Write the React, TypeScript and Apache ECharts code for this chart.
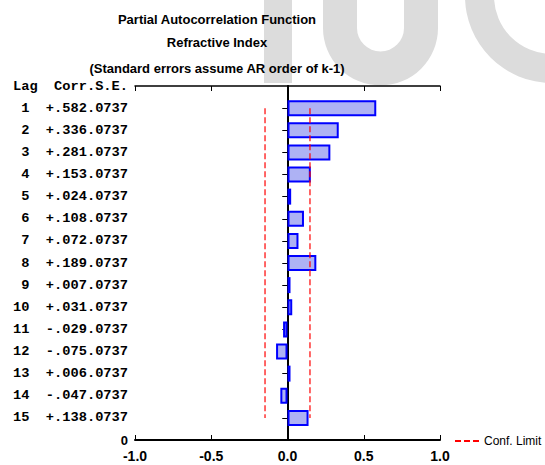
import React, { useEffect, useRef } from "react";
import * as echarts from "echarts";

// Partial autocorrelations by lag, with their standard errors
const lags = [1, 2, 3, 4, 5, 6, 7, 8, 9, 10, 11, 12, 13, 14, 15];
const corr = [0.582, 0.336, 0.281, 0.153, 0.024, 0.108, 0.072, 0.189, 0.007, 0.031, -0.029, -0.075, 0.006, -0.047, 0.138];
const stdErr = [0.0737, 0.0737, 0.0737, 0.0737, 0.0737, 0.0737, 0.0737, 0.0737, 0.0737, 0.0737, 0.0737, 0.0737, 0.0737, 0.0737, 0.0737];
const xTickValues = [-1.0, -0.5, 0.0, 0.5, 1.0];
const headerLabel = "Lag\u00a0\u00a0Corr.S.E.";
const titleLines = [
  "Partial Autocorrelation Function",
  "Refractive Index",
  "(Standard errors assume AR order of k-1)",
];
const limitName = "Conf. Limit";

const NB = "\u00a0";
const fmtSigned = (v: number, digits: number) => {
  const s = Math.abs(v).toFixed(digits).replace(/^0/, "");
  return (v < 0 ? "-" : "+") + s;
};
const fmtSE = (v: number) => v.toFixed(4).replace(/^0/, "");

// Category axis runs bottom-up: "0", lag 15 ... lag 1, header row
const nCat = lags.length + 2;
const yCategories: string[] = [];
yCategories.push("0");
for (let i = lags.length - 1; i >= 0; i--) {
  const lagStr = String(lags[i]).padStart(2, NB);
  yCategories.push(lagStr + NB + NB + fmtSigned(corr[i], 3) + fmtSE(stdErr[i]));
}
yCategories.push(headerLabel);

const barValues: (number | null)[] = [null];
for (let i = lags.length - 1; i >= 0; i--) barValues.push(corr[i]);
barValues.push(null);

const lagIndex = (lag: number) => nCat - 1 - lag;
const firstLag = lags[0];
const lastLag = lags[lags.length - 1];
const limit = 2 * stdErr[0];

const isLagTick = (i: number) => i >= 1 && i <= nCat - 2;

export default function App() {
  const ref = useRef<HTMLDivElement>(null);

  useEffect(() => {
    if (!ref.current) return;
    const chart = echarts.init(ref.current, null, { renderer: "svg" });
    const sans = "'Liberation Sans', Arial, sans-serif";
    const mono = "'Liberation Mono', 'Courier New', monospace";
    const grey = "#dcdcdc";

    const limitLine = (x: number) => ({
      name: limitName,
      type: "line",
      xAxisIndex: 0,
      yAxisIndex: 0,
      symbol: "none",
      data: [
        [x, lagIndex(firstLag)],
        [x, lagIndex(lastLag)],
      ],
      lineStyle: { color: "#ff0000", width: 1.2, type: [6, 3] },
      itemStyle: { color: "#ff0000" },
      z: 5,
      silent: true,
    });

    chart.setOption({
      animation: false,
      backgroundColor: "#ffffff",
      graphic: [
        {
          type: "group",
          z: -10,
          silent: true,
          children: [
            { type: "rect", shape: { x: 264, y: 0, width: 28, height: 83 }, style: { fill: grey } },
            { type: "rect", shape: { x: 323, y: 0, width: 34, height: 28 }, style: { fill: grey } },
            { type: "rect", shape: { x: 404, y: 0, width: 34, height: 28 }, style: { fill: grey } },
            {
              type: "sector",
              shape: { cx: 380.5, cy: 28, r: 57.5, r0: 23.5, startAngle: 0, endAngle: Math.PI, clockwise: true },
              style: { fill: grey },
            },
            {
              type: "sector",
              shape: { cx: 552, cy: -4, r: 87, r0: 58, startAngle: Math.PI / 2, endAngle: Math.PI, clockwise: true },
              style: { fill: grey },
            },
          ],
        },
      ],
      title: titleLines.map((t, i) => ({
        text: t,
        left: 217,
        top: [13, 36, 62][i],
        textAlign: "center",
        padding: 0,
        textStyle: { fontFamily: sans, fontWeight: "bold", fontSize: 13, color: "#000" },
      })),
      legend: {
        data: [limitName],
        left: 454,
        top: 435,
        itemWidth: 24,
        itemHeight: 10,
        itemGap: 4,
        padding: 0,
        itemStyle: { opacity: 0 },
        textStyle: { fontFamily: sans, fontSize: 12, color: "#000", padding: [0, 0, 0, 0] },
      },
      grid: { left: 135, top: 86, width: 305, height: 354 },
      xAxis: [
        {
          type: "value",
          position: "bottom",
          min: xTickValues[0],
          max: xTickValues[xTickValues.length - 1],
          interval: 0.5,
          axisLine: { show: true, lineStyle: { color: "#000", width: 2 } },
          axisTick: { show: true, inside: true, length: 5, lineStyle: { color: "#000", width: 1 } },
          splitLine: { show: false },
          axisLabel: {
            margin: 9,
            fontFamily: sans,
            fontWeight: "bold",
            fontSize: 14,
            color: "#000",
            formatter: (v: number) => v.toFixed(1),
          },
        },
        {
          type: "value",
          position: "top",
          min: xTickValues[0],
          max: xTickValues[xTickValues.length - 1],
          interval: 0.5,
          axisLine: { show: true, lineStyle: { color: "#000", width: 1.5 } },
          axisTick: { show: true, inside: true, length: 5, lineStyle: { color: "#000", width: 1 } },
          splitLine: { show: false },
          axisLabel: { show: false },
        },
      ],
      yAxis: [
        {
          type: "category",
          position: "left",
          data: yCategories,
          boundaryGap: false,
          axisLine: { show: true, lineStyle: { color: "#000", width: 2 } },
          axisTick: {
            show: true,
            inside: false,
            length: 5,
            interval: (i: number) => isLagTick(i),
            lineStyle: { color: "#000", width: 1 },
          },
          splitLine: { show: false },
          axisLabel: {
            interval: 0,
            margin: 7,
            fontFamily: mono,
            fontWeight: "bold",
            fontSize: 13.7,
            color: "#000",
            formatter: (v: string, i: number) => (i === 0 ? "{z|" + v + "}" : v),
            rich: {
              z: { fontFamily: sans, fontWeight: "bold", fontSize: 13, color: "#000" },
            },
          },
        },
        {
          type: "category",
          position: "right",
          data: yCategories,
          boundaryGap: false,
          axisLine: { show: true, lineStyle: { color: "#000", width: 1.5 } },
          axisTick: {
            show: true,
            inside: true,
            length: 5,
            interval: (i: number) => isLagTick(i),
            lineStyle: { color: "#000", width: 1 },
          },
          splitLine: { show: false },
          axisLabel: { show: false },
        },
      ],
      series: [
        {
          type: "bar",
          xAxisIndex: 0,
          yAxisIndex: 0,
          data: barValues,
          barWidth: 16,
          barMinHeight: 3,
          itemStyle: { color: "#aeb2f4", borderColor: "#0000ff", borderWidth: 2 },
          silent: true,
        },
        limitLine(-limit),
        limitLine(limit),
      ],
    });
    return () => chart.dispose();
  }, []);

  return <div ref={ref} style={{ width: 545, height: 465, position: "absolute", left: 0, top: 0 }} />;
}
